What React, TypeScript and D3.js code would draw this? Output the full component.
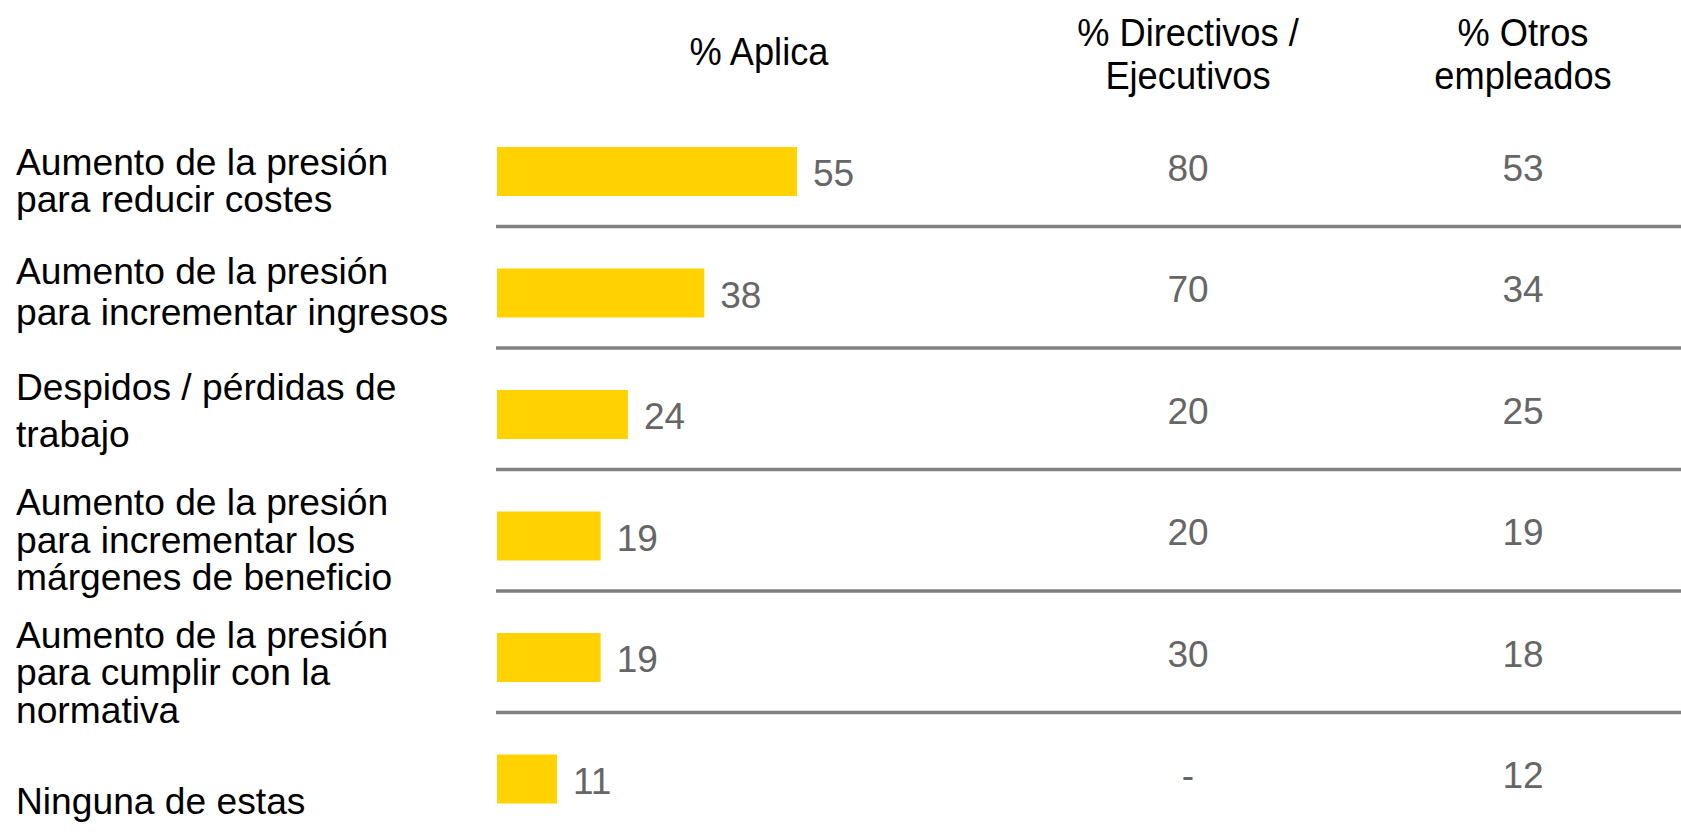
import React from "react";
import * as d3 from "d3";

// ---- data ----
const categories: string[][] = [
  ["Aumento de la presión", "para reducir costes"],
  ["Aumento de la presión", "para incrementar ingresos"],
  ["Despidos / pérdidas de", "trabajo"],
  ["Aumento de la presión", "para incrementar los", "márgenes de beneficio"],
  ["Aumento de la presión", "para cumplir con la", "normativa"],
  ["Ninguna de estas"],
];
const aplica: number[] = [55, 38, 24, 19, 19, 11];
const directivos: (number | null)[] = [80, 70, 20, 20, 30, null];
const otros: number[] = [53, 34, 25, 19, 18, 12];
const headers: string[][] = [["% Aplica"], ["% Directivos /", "Ejecutivos"], ["% Otros", "empleados"]];

// ---- layout (text-box placement of the row labels, relative to row centre) ----
const labelLayout = [
  { dy: 3, gap: 37.6 },
  { dy: -9.5, gap: 41 },
  { dy: -14.5, gap: 46.5 },
  { dy: -21, gap: 37.6 },
  { dy: -10, gap: 37.6 },
  { dy: 35, gap: 0 },
];

const W = 1681;
const H = 832;
const FONT = "'Liberation Sans', Arial, sans-serif";
const BAR = "#FFD200";
const VAL = "#666666";
const RULE = "#808080";

export default function App() {
  const keys = categories.map((_, i) => String(i));
  const y = d3.scalePoint<string>().domain(keys).range([171.5, 779]);
  const x = d3.scaleLinear().domain([0, 55]).range([497, 797]);
  const colX = d3.scalePoint<string>().domain(["a", "d", "o"]).range([759, 1523]);
  const dirX = 1188;
  const othX = 1523;
  const barH = 49;

  return (
    <svg
      width={W}
      height={H}
      style={{ position: "absolute", left: 0, top: 0, display: "block", background: "#fff" }}
      fontFamily={FONT}
    >
      {/* headers */}
      {headers.map((lines, hi) => {
        const cx = hi === 0 ? colX("a")! : hi === 1 ? dirX : othX;
        const baselines = lines.length === 1 ? [65] : [45.5, 88.5];
        return lines.map((t, li) => (
          <g key={`h${hi}-${li}`} transform={`translate(${cx},${baselines[li]}) scale(0.93,1)`}>
            <text textAnchor="middle" fontSize={39} fill="#000">
              {t}
            </text>
          </g>
        ));
      })}

      {/* separator rules */}
      {keys.slice(0, keys.length - 1).map((k) => (
        <line key={`r${k}`} x1={496} x2={W} y1={y(k)! + 55} y2={y(k)! + 55} stroke={RULE} strokeWidth={3.3} />
      ))}

      {/* row labels */}
      {categories.map((lines, i) => (
        <text key={`l${i}`} fontSize={37.2} fill="#000">
          {lines.map((t, li) => (
            <tspan key={li} x={16} y={y(String(i))! + labelLayout[i].dy + li * labelLayout[i].gap}>
              {t}
            </tspan>
          ))}
        </text>
      ))}

      {/* bars */}
      {aplica.map((v, i) => (
        <rect
          key={`b${i}`}
          x={x(0)}
          y={y(String(i))! - barH / 2}
          width={x(v) - x(0)}
          height={barH}
          fill={BAR}
        />
      ))}

      {/* bar values */}
      {aplica.map((v, i) => (
        <text key={`v${i}`} x={x(v) + 16} y={y(String(i))! + 14.5} fontSize={37} fill={VAL}>
          {v}
        </text>
      ))}

      {/* directivos column */}
      {directivos.map((v, i) => (
        <text key={`d${i}`} x={dirX} y={y(String(i))! + 9} fontSize={37} fill={VAL} textAnchor="middle">
          {v === null ? "-" : v}
        </text>
      ))}

      {/* otros column */}
      {otros.map((v, i) => (
        <text key={`o${i}`} x={othX} y={y(String(i))! + 9} fontSize={37} fill={VAL} textAnchor="middle">
          {v}
        </text>
      ))}
    </svg>
  );
}
